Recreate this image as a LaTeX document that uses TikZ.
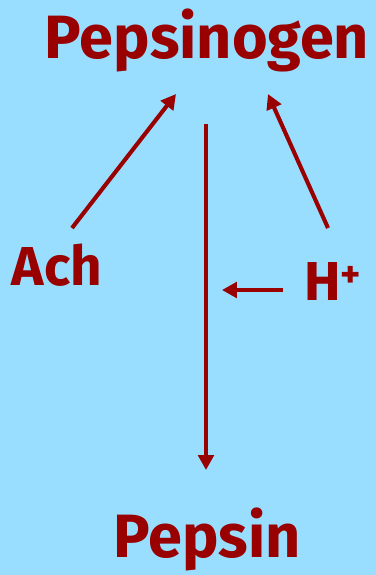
\documentclass[tikz,border=0pt]{standalone}
\usepackage{fontspec}
\setmainfont{Fira Sans}
\usetikzlibrary{arrows.meta}
\definecolor{skycolor}{RGB}{153,221,255}
\definecolor{enzcolor}{RGB}{153,0,0}

\begin{document}
\begin{tikzpicture}[
  x=0.025cm, y=-0.025cm,
  bigword/.style={enzcolor, anchor=base, font=\fontsize{43.5}{48}\selectfont\bfseries, inner sep=0pt},
  midword/.style={enzcolor, anchor=base, font=\fontsize{39}{42}\selectfont\bfseries, inner sep=0pt},
  redarrow/.style={enzcolor, line width=2.9pt, -{Triangle[length=10.6pt, width=11pt]}},
]

% ---------- background ----------
\fill[skycolor] (0,0) rectangle (376,575);
\useasboundingbox (0,0) rectangle (376,575);

% ---------- words ----------
\node[bigword] (pepsinogen) at (207, 58) {Pepsinogen};
\node[bigword] (pepsin) at (207, 557) {Pepsin};
\node[midword] (ach) at (57, 285) {Ach};
\node[midword] (hplus) at (333, 300) {H\textsuperscript{+}};

% ---------- arrow ends ----------
\coordinate (achstart) at (72, 228);
\coordinate (achtip) at (176, 94);
\coordinate (hstart) at (328, 228);
\coordinate (htip) at (268, 94);
\coordinate (mainstart) at (206, 124);
\coordinate (maintip) at (206, 470);
\coordinate (sidestart) at (283, 290);
\coordinate (sidetip) at (222, 290);

% ---------- arrows ----------
\draw[redarrow] (achstart) -- (achtip);
\draw[redarrow] (hstart) -- (htip);
\draw[redarrow] (mainstart) -- (maintip);
\draw[redarrow] (sidestart) -- (sidetip);

\end{tikzpicture}
\end{document}
